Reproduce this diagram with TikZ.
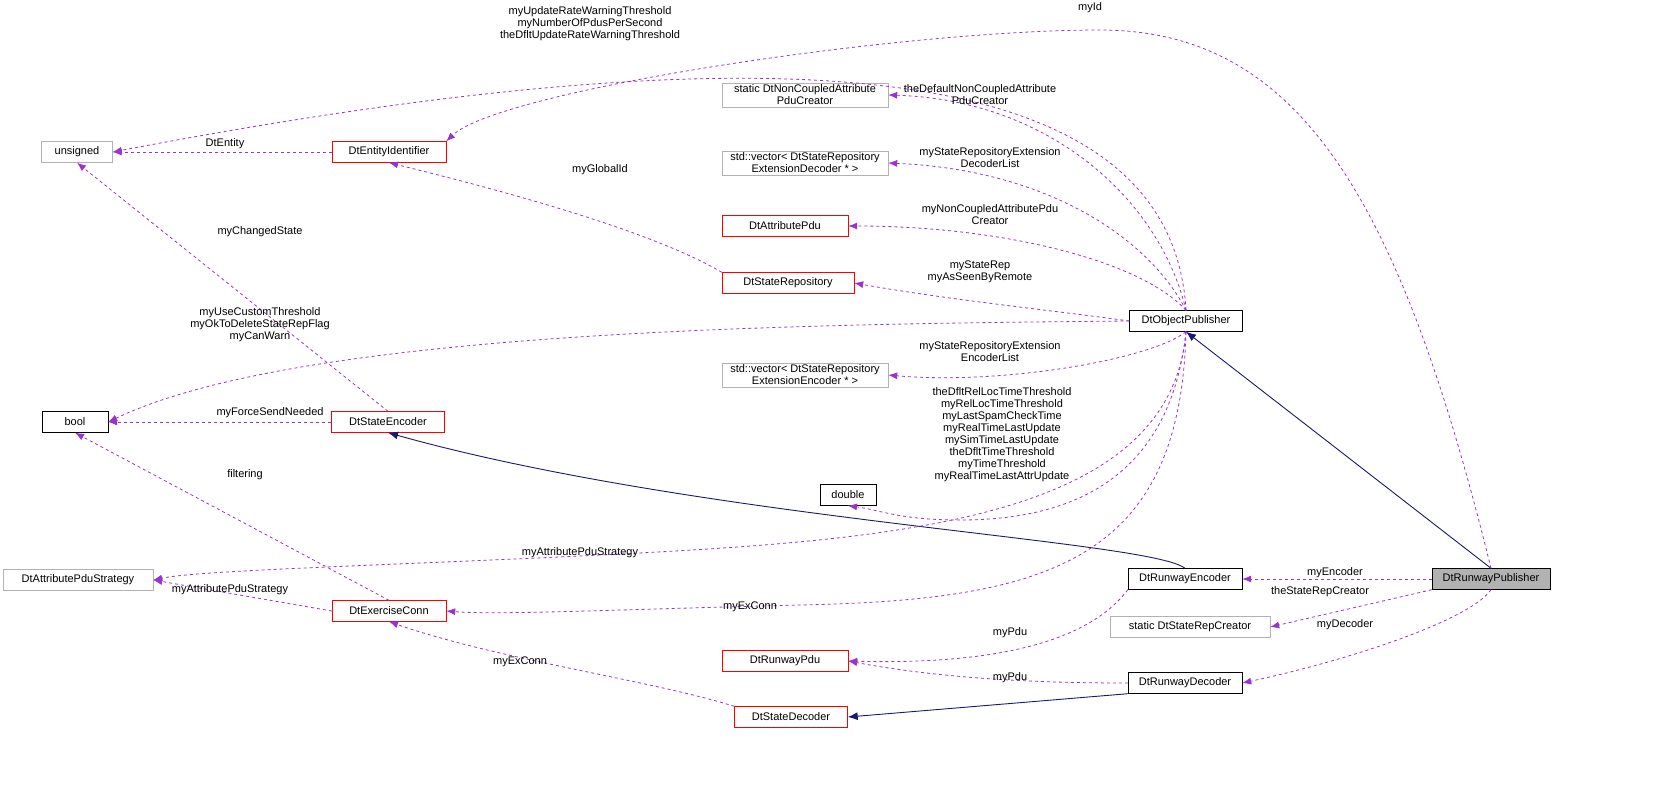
\documentclass[tikz,border=0pt]{standalone}
\usepackage{fontspec}
\setmainfont{Liberation Sans}
\usetikzlibrary{arrows.meta}
\definecolor{orchid}{HTML}{9A32CD}
\definecolor{navyline}{HTML}{191970}
\tikzset{%
  cls/.style    = {draw, rectangle, inner sep=2pt, minimum height=21pt, align=center},
  clsred/.style = {cls, draw=red},
  clsext/.style = {cls, draw=gray!60},
  clsfoc/.style = {cls, fill=gray!60},
  use/.style    = {draw=orchid, dashed, line width=0.8pt, -{Latex[length=9pt,width=7pt]}},
  isa/.style    = {draw=navyline, line width=0.9pt, -{Latex[length=10pt,width=8pt]}},
  lbl/.style    = {align=center, inner sep=0pt, font=\fontsize{11}{12}\selectfont}
}
\begin{document}
\begin{tikzpicture}[x=1pt, y=-1pt, font=\fontsize{11}{12}\selectfont]
  \useasboundingbox (0,0) rectangle (1664,788);
  % classes
  \node[clsfoc, minimum width=118pt] (pub) at (1491,579) {DtRunwayPublisher};
  \node[cls, minimum width=113pt] (objpub) at (1186,321) {DtObjectPublisher};
  \node[cls, minimum width=114pt] (renc) at (1185,579) {DtRunwayEncoder};
  \node[clsext, minimum width=160pt] (repcr) at (1190,627) {static DtStateRepCreator};
  \node[cls, minimum width=114pt] (rdec) at (1185,683) {DtRunwayDecoder};
  \node[clsext, minimum width=71pt] (uns) at (77,152) {unsigned};
  \node[clsred, minimum width=114pt] (entid) at (389,152) {DtEntityIdentifier};
  \node[clsext, minimum width=166pt] (ncpc) at (805,95) {static DtNonCoupledAttribute\\PduCreator};
  \node[clsext, minimum width=166pt] (vdec) at (805,163) {std::vector< DtStateRepository\\ExtensionDecoder * >};
  \node[clsred, minimum width=126pt] (attpdu) at (785,226) {DtAttributePdu};
  \node[clsred, minimum width=132pt] (srep) at (788,283) {DtStateRepository};
  \node[clsext, minimum width=166pt] (venc) at (805,375) {std::vector< DtStateRepository\\ExtensionEncoder * >};
  \node[cls, minimum width=66pt] (bool) at (75,422) {bool};
  \node[clsred, minimum width=113pt] (senc) at (388,422) {DtStateEncoder};
  \node[cls, minimum width=56pt] (dbl) at (848,495) {double};
  \node[clsext, minimum width=150pt] (strat) at (78,580) {DtAttributePduStrategy};
  \node[clsred, minimum width=114pt] (exc) at (389,611) {DtExerciseConn};
  \node[clsred, minimum width=126pt] (rpdu) at (785,661) {DtRunwayPdu};
  \node[clsred, minimum width=113pt] (sdec) at (791,717) {DtStateDecoder};

  % inheritance
  \draw[isa] (pub.north) -- (objpub.south);
  \draw[isa] (renc.north) .. controls (1150,540) and (700,520) .. (senc.south);
  \draw[isa] (rdec.south west) -- (sdec.east);

  % members
  \draw[use] (objpub.north) .. controls (1170,30) and (700,40) .. (uns.east);
  \node[lbl] (l1) at (590,24) {myUpdateRateWarningThreshold\\myNumberOfPdusPerSecond\\theDfltUpdateRateWarningThreshold};
  \draw[use] (pub.north) .. controls (1400,200) and (1300,30) .. (1100,30) .. controls (900,30) and (500,90) .. (entid.north east);
  \node[lbl] (l2) at (1090,8) {myId};
  \draw[use] (entid.west) -- (uns.east);
  \node[lbl] (l3) at (225,144) {DtEntity};
  \draw[use] (senc.north) -- (uns.south);
  \node[lbl] (l4) at (260,232) {myChangedState};
  \draw[use] (srep.north west) .. controls (650,230) and (500,190) .. (entid.south);
  \node[lbl] (l5) at (600,170) {myGlobalId};
  \draw[use] (objpub.north) .. controls (1160,200) and (1050,100) .. (ncpc.east);
  \node[lbl] (l6) at (980,95) {theDefaultNonCoupledAttribute\\PduCreator};
  \draw[use] (objpub.north) .. controls (1150,240) and (1050,170) .. (vdec.east);
  \node[lbl] (l7) at (990,158) {myStateRepositoryExtension\\DecoderList};
  \draw[use] (objpub.north) .. controls (1140,260) and (1000,226) .. (attpdu.east);
  \node[lbl] (l8) at (990,215) {myNonCoupledAttributePdu\\Creator};
  \draw[use] (objpub.west) .. controls (1050,310) and (950,300) .. (srep.east);
  \node[lbl] (l9) at (980,272) {myStateRep\\myAsSeenByRemote};
  \draw[use] (objpub.west) .. controls (800,324) and (300,330) .. (bool.east);
  \node[lbl] (l10) at (260,325) {myUseCustomThreshold\\myOkToDeleteStateRepFlag\\myCanWarn};
  \draw[use] (objpub.south) .. controls (1150,360) and (1000,385) .. (venc.east);
  \node[lbl] (l11) at (990,352) {myStateRepositoryExtension\\EncoderList};
  \draw[use] (objpub.south) .. controls (1170,480) and (1070,520) .. (960,520) .. controls (900,520) and (880,510) .. (dbl.south);
  \node[lbl] (l12) at (1002,435) {theDfltRelLocTimeThreshold\\myRelLocTimeThreshold\\myLastSpamCheckTime\\myRealTimeLastUpdate\\mySimTimeLastUpdate\\theDfltTimeThreshold\\myTimeThreshold\\myRealTimeLastAttrUpdate};
  \draw[use] (objpub.south) .. controls (1170,520) and (900,540) .. (600,555) .. controls (400,565) and (200,570) .. (strat.east);
  \node[lbl] (l13) at (580,553) {myAttributePduStrategy};
  \draw[use] (objpub.south) .. controls (1180,560) and (1050,600) .. (800,605) .. controls (600,610) and (500,615) .. (exc.east);
  \node[lbl] (l14) at (750,607) {myExConn};
  \draw[use] (senc.west) -- (bool.east);
  \node[lbl] (l15) at (270,413) {myForceSendNeeded};
  \draw[use] (exc.north) -- (bool.south);
  \node[lbl] (l16) at (245,475) {filtering};
  \draw[use] (exc.west) -- (strat.east);
  \node[lbl] (l17) at (230,590) {myAttributePduStrategy};
  \draw[use] (sdec.north west) .. controls (650,680) and (500,660) .. (exc.south);
  \node[lbl] (l18) at (520,662) {myExConn};
  \draw[use] (renc.south west) .. controls (1090,640) and (1000,665) .. (rpdu.east);
  \node[lbl] (l19) at (1010,633) {myPdu};
  \draw[use] (rdec.west) .. controls (1050,683) and (950,680) .. (rpdu.east);
  \node[lbl] (l20) at (1010,678) {myPdu};
  \draw[use] (pub.west) -- (renc.east);
  \node[lbl] (l21) at (1335,573) {myEncoder};
  \draw[use] (pub.south west) -- (repcr.east);
  \node[lbl] (l22) at (1320,592) {theStateRepCreator};
  \draw[use] (pub.south) .. controls (1470,620) and (1350,660) .. (rdec.east);
  \node[lbl] (l23) at (1345,625) {myDecoder};
\end{tikzpicture}
\end{document}
